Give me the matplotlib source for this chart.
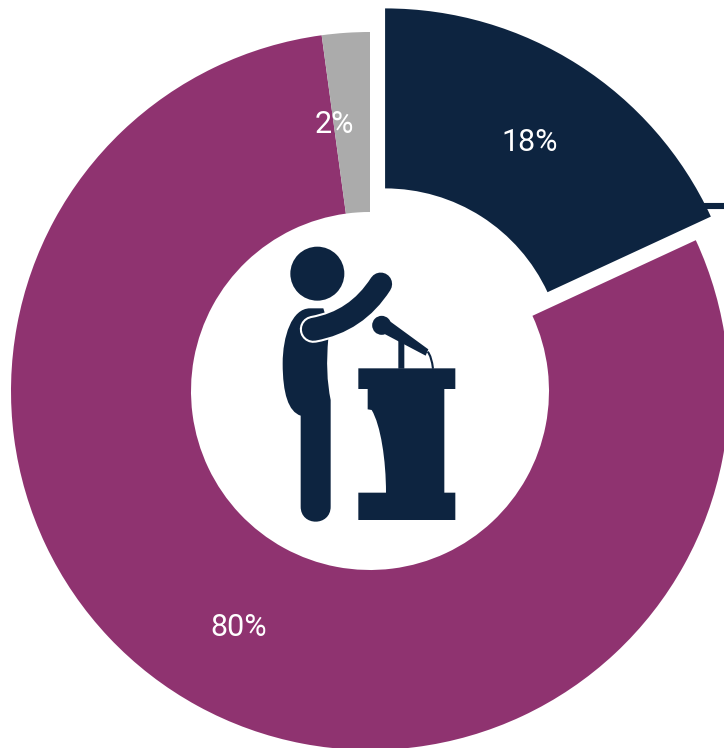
import matplotlib
matplotlib.use('Agg')
import matplotlib.pyplot as plt
from matplotlib.path import Path
from matplotlib.patches import PathPatch, Circle, Polygon

labels = ['18%', '80%', '2%']
values = [18.1, 79.75, 2.15]
colors = ['#0D2440', '#8F3370', '#ABABAB']
explode = [28, 0, 0]

navy = colors[0]
H = 748

plt.rcParams['font.family'] = ['Roboto', 'Noto Sans']

fig = plt.figure(figsize=(7.24, 7.48), dpi=100)
ax = fig.add_axes([0, 0, 1, 1])
ax.pie(values, colors=colors, explode=explode, startangle=90, counterclock=False,
       center=(370, H - 391), radius=359, wedgeprops=dict(width=180, linewidth=0))
ax.set_xlim(0, 724)
ax.set_ylim(0, H)
ax.set_aspect('equal')
ax.axis('off')

# label positions in image pixels
ax.text(530, H - 142, labels[0], color='white', fontsize=22, ha='center', va='center')
ax.text(239, H - 628, labels[1], color='white', fontsize=22, ha='center', va='center')
ax.text(334, H - 124, labels[2], color='white', fontsize=22, ha='center', va='center')

# small leader line going off the right side
ax.plot([703, 724], [H - 206, H - 206], color=navy, lw=4.4, solid_capstyle='butt')


def p(zx, zy):
    return (260 + zx / 3, H - (230 + zy / 3))


def shape(pts, codes):
    ax.add_patch(PathPatch(Path([p(*q) for q in pts], codes), fc=navy, ec='none'))


M, L, C3, C4, Z = Path.MOVETO, Path.LINETO, Path.CURVE3, Path.CURVE4, Path.CLOSEPOLY

ax.add_patch(Circle(p(172, 131), 27, fc=navy, ec='none'))

# torso and leg
shape([(150, 235), (95, 235), (68, 320), (68, 400), (68, 490), (85, 545), (122, 557),
       (122, 830), (122, 890), (212, 890), (212, 830), (212, 510), (195, 430), (205, 325),
       (205, 280), (190, 235), (150, 235), (150, 235)],
      [M, C4, C4, C4, C4, C4, C4, L, C4, C4, C4, L, C3, C3, C3, C3, L, Z])

# arm, white stroke gives the outline around the shoulder
arm = Path([p(160, 298), p(290, 275), p(362, 162)], [M, C3, C3])
ax.add_patch(PathPatch(arm, fc='none', ec='white', lw=19.5, capstyle='round'))
ax.add_patch(PathPatch(arm, fc='none', ec=navy, lw=16.5, capstyle='round'))

# podium
shape([(295, 415), (586, 415), (586, 477), (553, 477), (553, 788), (586, 788), (586, 870),
       (295, 870), (295, 788), (378, 788), (378, 690), (362, 585), (335, 540), (323, 538),
       (323, 477), (295, 477), (295, 415)],
      [M, L, L, L, L, L, L, L, L, L, C4, C4, C4, L, L, L, Z])

# microphone
ax.add_patch(Circle(p(365, 286), 9.5, fc=navy, ec='none'))
ax.add_patch(Polygon([p(390, 274), p(505, 358), p(497, 377), p(370, 310)], fc=navy, ec='none'))
ax.add_patch(Polygon([p(415, 330), p(433, 340), p(433, 416), p(415, 416)], fc=navy, ec='none'))
cable = Path([p(503, 365), p(515, 380), p(519, 416)], [M, C3, C3])
ax.add_patch(PathPatch(cable, fc='none', ec=navy, lw=1.5))

fig.savefig('out.png', dpi=100)
